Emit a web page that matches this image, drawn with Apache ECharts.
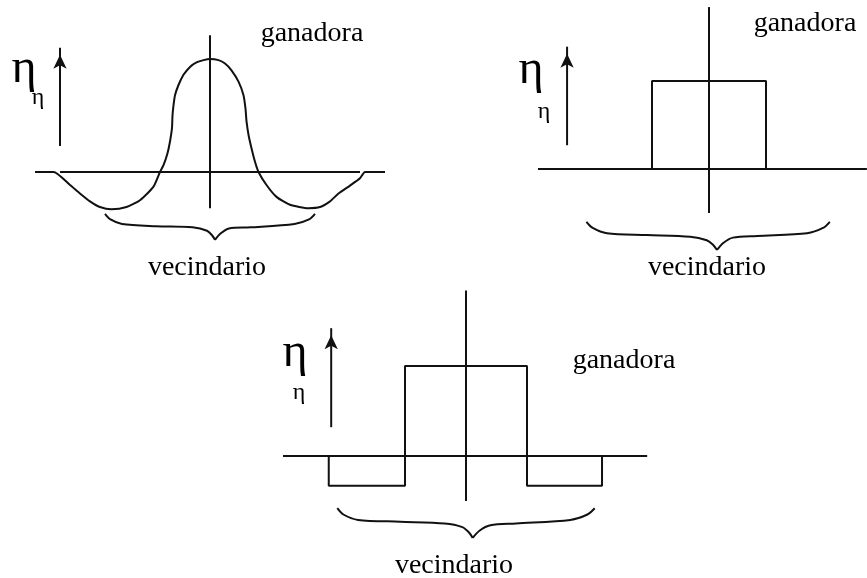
<!DOCTYPE html>
<html>
<head>
<meta charset="utf-8">
<script src="https://cdn.jsdelivr.net/npm/echarts@6/dist/echarts.min.js"></script>
<style>
  body { margin: 0; background: #fff; }
  #main { width: 867px; height: 578px; }
</style>
</head>
<body>
<div id="main"></div>
<script>
// panel 1: sombrero mexicano
const hatCurve = [[-3.5, 0], [-3.13, 0], [-2.8, -0.115], [-2.6, -0.19], [-2.4, -0.26], [-2.2, -0.31],
  [-1.97, -0.33], [-1.67, -0.31], [-1.4, -0.25], [-1.13, -0.13], [-1.0, 0], [-0.93, 0.06],
  [-0.85, 0.165], [-0.8, 0.27], [-0.76, 0.39], [-0.75, 0.5], [-0.73, 0.59], [-0.7, 0.68],
  [-0.63, 0.77], [-0.53, 0.86], [-0.4, 0.93], [-0.27, 0.97], [-0.13, 0.99], [0, 1],
  [0.17, 0.99], [0.3, 0.96], [0.43, 0.9], [0.57, 0.8], [0.67, 0.68], [0.71, 0.56], [0.73, 0.45],
  [0.77, 0.33], [0.83, 0.21], [0.9, 0.09], [0.97, 0], [1.13, -0.115], [1.33, -0.22], [1.6, -0.29],
  [1.97, -0.32], [2.2, -0.31], [2.4, -0.26], [2.57, -0.19], [2.8, -0.12], [3.0, -0.056],
  [3.1, 0], [3.5, 0]]
const hatBaseline = [[-3.0, 0], [3.0, 0]]
const hatAxis = [[0, 1.21], [0, -0.32]]
const hatArrow = [[-3.0, 0.23], [-3.0, 1.10]]
const hatBrace = [[-2.1, -0.37], [-1.99, -0.42], [-1.76, -0.46], [-1.08, -0.48], [-0.35, -0.49],
  [-0.06, -0.52], [0.04, -0.56], [0.1, -0.6], [0.21, -0.545], [0.38, -0.5], [0.81, -0.49],
  [1.69, -0.46], [1.98, -0.42], [2.1, -0.37]]

// panel 2: rectangular
const rectCurve = [[-1, 0], [-1, 1], [1, 1], [1, 0]]
const rectBaseline = [[-3.0, 0], [2.77, 0]]
const rectAxis = [[0, 1.84], [0, -0.5]]
const rectArrow = [[-2.49, 0.27], [-2.49, 1.39]]
const rectBrace = [[-2.15, -0.6], [-2.04, -0.67], [-1.79, -0.73], [-1.09, -0.75], [-0.33, -0.77],
  [-0.04, -0.81], [0.07, -0.86], [0.14, -0.92], [0.25, -0.84], [0.42, -0.78], [0.84, -0.76],
  [1.72, -0.73], [2.0, -0.67], [2.12, -0.6]]

// panel 3: rectangular con inhibicion lateral
const wellCurve = [[-2.25, 0], [-2.25, -0.33], [-1, -0.33], [-1, 1], [1, 1], [1, -0.33], [2.23, -0.33], [2.23, 0]]
const wellBaseline = [[-3.0, 0], [2.97, 0]]
const wellAxis = [[0, 1.84], [0, -0.5]]
const wellArrow = [[-2.21, 0.32], [-2.21, 1.42]]
const wellBrace = [[-2.11, -0.58], [-2.01, -0.65], [-1.77, -0.71], [-1.08, -0.73], [-0.35, -0.75],
  [-0.06, -0.79], [0.05, -0.85], [0.11, -0.91], [0.22, -0.83], [0.4, -0.77], [0.82, -0.75],
  [1.71, -0.71], [1.99, -0.65], [2.11, -0.58]]

const labelWinner = 'ganadora'
const labelNeighbourhood = 'vecindario'
const labelEta = 'η'

var myChart = echarts.init(document.getElementById('main'))

const ink = '#111'
const serif = '"Liberation Serif", "DejaVu Serif", serif'

function line(data, idx, extra) {
  return Object.assign({
    type: 'line',
    data: data,
    xAxisIndex: idx,
    yAxisIndex: idx,
    symbol: 'none',
    silent: true,
    clip: false,
    lineStyle: { color: ink, width: 2 },
    itemStyle: { color: ink }
  }, extra || {})
}

function arrow(data, idx) {
  const d = data.slice(0, -1).concat([{
    value: data[data.length - 1],
    symbol: 'arrow',
    symbolSize: [10, 14],
    symbolOffset: [0, '50%']
  }])
  return line(d, idx, { showSymbol: true })
}

function brace(data, idx) {
  // split at the tip (lowest point) so it stays sharp
  let tip = 0
  data.forEach((p, i) => { if (p[1] < data[tip][1]) tip = i })
  return [
    line(data.slice(0, tip + 1), idx, { smooth: 0.3 }),
    line(data.slice(tip), idx, { smooth: 0.3 })
  ]
}

function text(str, x, y, size) {
  return {
    type: 'text', x: x, y: y, silent: true,
    style: { text: str, fontSize: size, fontFamily: serif, fill: '#000', align: 'center', verticalAlign: 'middle' }
  }
}

const option = {
  animation: false,
  backgroundColor: '#fff',
  grid: [
    { left: 35, width: 350, top: 13.8, height: 271.2 },
    { left: 538, width: 328.9, top: 1.8, height: 272.8 },
    { left: 270.8, width: 390.4, top: 276, height: 297 }
  ],
  xAxis: [
    { type: 'value', gridIndex: 0, min: -3.5, max: 3.5, show: false },
    { type: 'value', gridIndex: 1, min: -3, max: 2.77, show: false },
    { type: 'value', gridIndex: 2, min: -3.2, max: 3.2, show: false }
  ],
  yAxis: [
    { type: 'value', gridIndex: 0, min: -1, max: 1.4, show: false },
    { type: 'value', gridIndex: 1, min: -1.2, max: 1.9, show: false },
    { type: 'value', gridIndex: 2, min: -1.3, max: 2.0, show: false }
  ],
  series: [
    line(hatBaseline, 0), line(hatAxis, 0), arrow(hatArrow, 0),
    line(hatCurve, 0, { smooth: 0.2 }),
    ...brace(hatBrace, 0),
    line(rectBaseline, 1), line(rectAxis, 1), arrow(rectArrow, 1),
    line(rectCurve, 1),
    ...brace(rectBrace, 1),
    line(wellBaseline, 2), line(wellAxis, 2), arrow(wellArrow, 2),
    line(wellCurve, 2),
    ...brace(wellBrace, 2)
  ],
  graphic: [
    text(labelWinner, 312, 34, 28),
    text(labelNeighbourhood, 207, 268, 28),
    text(labelEta, 24, 69, 48),
    text(labelEta, 38, 98, 24),
    text(labelWinner, 805, 24, 28),
    text(labelNeighbourhood, 707, 268, 28),
    text(labelEta, 531, 70, 48),
    text(labelEta, 544, 112, 24),
    text(labelWinner, 624, 361, 28),
    text(labelNeighbourhood, 454, 566, 28),
    text(labelEta, 295, 353, 48),
    text(labelEta, 299, 393, 24)
  ]
}

myChart.setOption(option)
</script>
</body>
</html>
